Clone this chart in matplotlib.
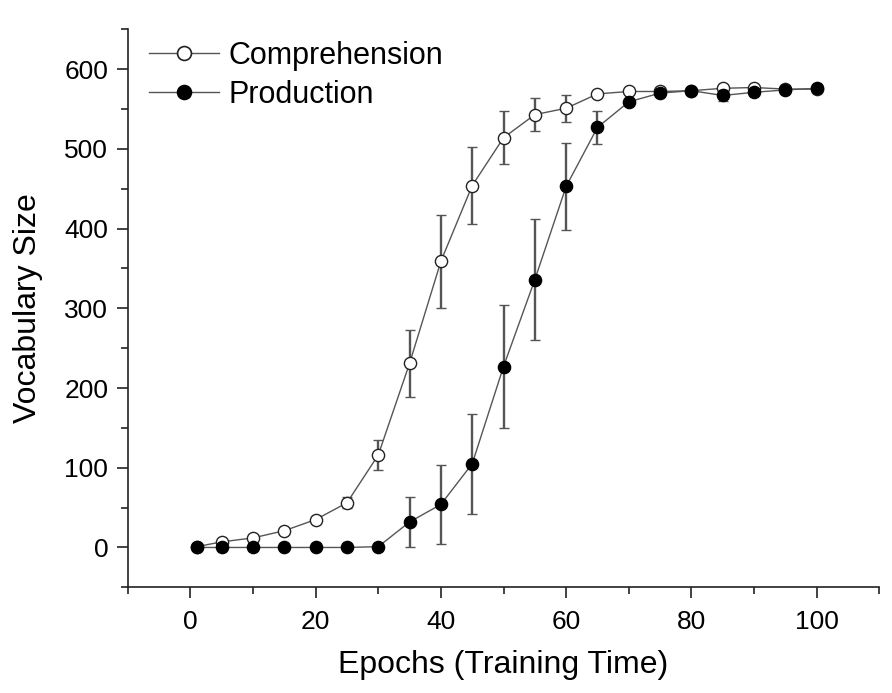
import numpy as np
import matplotlib
matplotlib.use("Agg")
import matplotlib.pyplot as plt
from matplotlib.ticker import MultipleLocator
from matplotlib.lines import Line2D

plt.rcParams['font.family'] = ['Liberation Sans', 'DejaVu Sans']

# epochs sampled
epochs = [1, 5, 10, 15, 20, 25, 30, 35, 40, 45, 50, 55, 60, 65, 70, 75, 80, 85, 90, 95, 100]

# comprehension vocabulary size and error
comp = [1, 7, 12, 21, 35, 56, 116, 231, 359, 454, 514, 543, 551, 569, 572, 572, 573, 576, 577, 575, 575]
comp_err = [1, 2, 2, 3, 4, 7, 19, 42, 58, 48, 33, 21, 17, 3, 2, 2, 2, 2, 2, 1, 1]

# production vocabulary size and error
prod = [0, 0, 0, 0, 0, 0, 1, 32, 54, 105, 227, 336, 453, 527, 559, 570, 573, 567, 571, 574, 576]
prod_err = [0, 0, 0, 0, 0, 0, 1, 31, 50, 63, 77, 76, 55, 21, 4, 3, 2, 7, 3, 2, 2]

fig = plt.figure(figsize=(8.92, 6.93), dpi=100)
ax = fig.add_axes([0.1432, 0.1525, 0.8426, 0.8052])

line_col = '#555555'
err_col = '#555555'

ax.errorbar(epochs, comp, yerr=comp_err, color=line_col, lw=1.0,
            marker='o', ms=8.8, mfc='white', mec='#222222', mew=1.0,
            ecolor=err_col, elinewidth=1.7, capsize=3.5, capthick=1.7,
            zorder=2)
ax.errorbar(epochs, prod, yerr=prod_err, color=line_col, lw=1.0,
            marker='o', ms=8.8, mfc='black', mec='black', mew=1.0,
            ecolor=err_col, elinewidth=1.7, capsize=3.5, capthick=1.7,
            zorder=3)

ax.set_xlim(-10, 110)
ax.set_ylim(-50, 650)
ax.xaxis.set_major_locator(MultipleLocator(20))
ax.xaxis.set_minor_locator(MultipleLocator(10))
ax.yaxis.set_major_locator(MultipleLocator(100))
ax.yaxis.set_minor_locator(MultipleLocator(50))

for s in ['top', 'right']:
    ax.spines[s].set_visible(False)
for s in ['left', 'bottom']:
    ax.spines[s].set_linewidth(1.2)
    ax.spines[s].set_color('#222222')

ax.tick_params(which='major', direction='out', length=8, width=1.2,
               labelsize=19, pad=6, color='#222222')
ax.tick_params(axis='x', which='major', pad=8)
ax.tick_params(which='minor', direction='out', length=5, width=1.2, color='#222222')

ax.set_xlabel('Epochs (Training Time)', fontsize=23, labelpad=12)
ax.set_ylabel('Vocabulary Size', fontsize=23, labelpad=15)

handles = [
    Line2D([], [], color=line_col, lw=1.0, marker='o', ms=10, mfc='white', mec='#222222', mew=1.2),
    Line2D([], [], color=line_col, lw=1.0, marker='o', ms=10, mfc='black', mec='black', mew=1.2),
]
ax.legend(handles, ['Comprehension', 'Production'], loc='upper left',
          bbox_to_anchor=(0.004, 1.012), frameon=False,
          fontsize=22, handlelength=2.3, handletextpad=0.3, labelspacing=0.3,
          borderaxespad=0.2, borderpad=0.4)

fig.savefig('out.png', dpi=100)
